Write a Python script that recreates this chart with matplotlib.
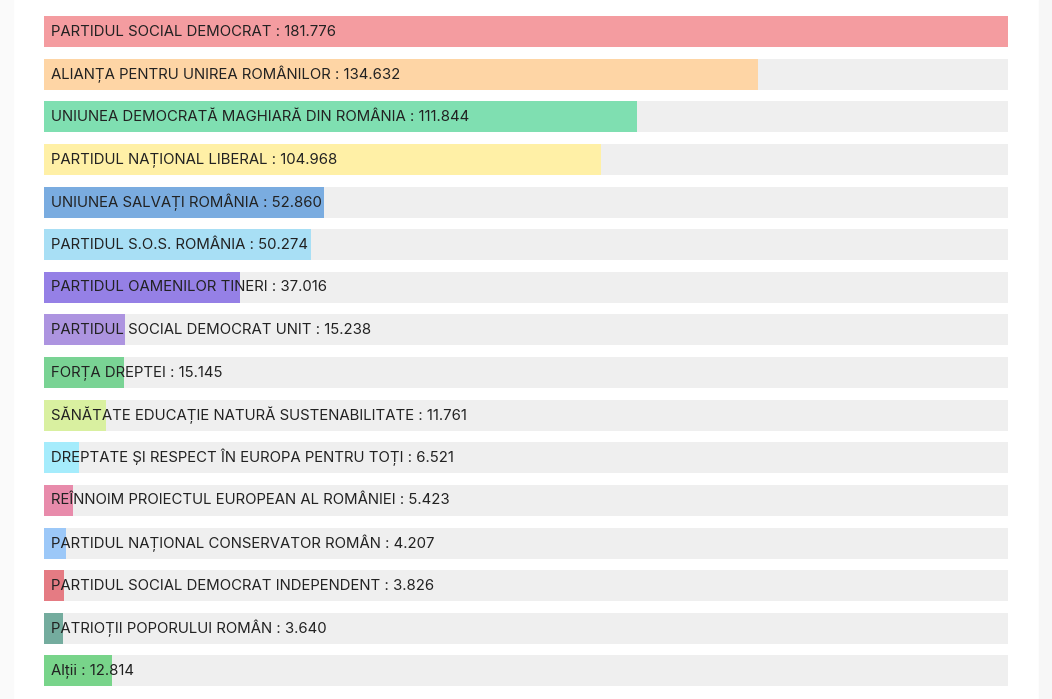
import matplotlib.pyplot as plt
from matplotlib.patches import Rectangle

parties = [
    "PARTIDUL SOCIAL DEMOCRAT",
    "ALIANȚA PENTRU UNIREA ROMÂNILOR",
    "UNIUNEA DEMOCRATĂ MAGHIARĂ DIN ROMÂNIA",
    "PARTIDUL NAȚIONAL LIBERAL",
    "UNIUNEA SALVAȚI ROMÂNIA",
    "PARTIDUL S.O.S. ROMÂNIA",
    "PARTIDUL OAMENILOR TINERI",
    "PARTIDUL SOCIAL DEMOCRAT UNIT",
    "FORȚA DREPTEI",
    "SĂNĂTATE EDUCAȚIE NATURĂ SUSTENABILITATE",
    "DREPTATE ȘI RESPECT ÎN EUROPA PENTRU TOȚI",
    "REÎNNOIM PROIECTUL EUROPEAN AL ROMÂNIEI",
    "PARTIDUL NAȚIONAL CONSERVATOR ROMÂN",
    "PARTIDUL SOCIAL DEMOCRAT INDEPENDENT",
    "PATRIOȚII POPORULUI ROMÂN",
    "Alții",
]
votes = [181776, 134632, 111844, 104968, 52860, 50274, 37016, 15238,
         15145, 11761, 6521, 5423, 4207, 3826, 3640, 12814]
colors = ["#f49ca0", "#fed5a5", "#7fdfb1", "#fff0a6", "#7aace0", "#a8dff5",
          "#9580e6", "#ad94e0", "#79d394", "#d9f0a0", "#a5ecfc", "#e88bab",
          "#9cc8f8", "#e57b83", "#74ac9e", "#78d48a"]

plt.rcParams['font.family'] = ['Inter', 'DejaVu Sans']

fig = plt.figure(figsize=(10.52, 6.99), dpi=100)
# light grey page margins
fig.patches.append(Rectangle((0, 0), 13 / 1052, 1, transform=fig.transFigure,
                             color="#fafafa", zorder=0))
fig.patches.append(Rectangle((1039 / 1052, 0), 1, 1, transform=fig.transFigure,
                             color="#f7f7f7", zorder=0))

ax = fig.add_axes([44 / 1052, 6.7 / 699, 964 / 1052, 682.1 / 699])
ax.set_facecolor("none")

y = list(range(len(parties)))
top = max(votes)
ax.barh(y, [top] * len(y), height=0.727, color="#efefef")
ax.barh(y, votes, height=0.727, color=colors)

for i, (name, v) in enumerate(zip(parties, votes)):
    label = f"{name} : {v:,}".replace(",", ".")
    ax.annotate(label, xy=(0, i), xytext=(7, 0), textcoords="offset pixels",
                va="center", ha="left", fontsize=10.75, color="#222222")

ax.set_xlim(0, top)
ax.set_ylim(len(y) - 0.5, -0.5)
ax.axis("off")

fig.savefig("out.png", dpi=100)
